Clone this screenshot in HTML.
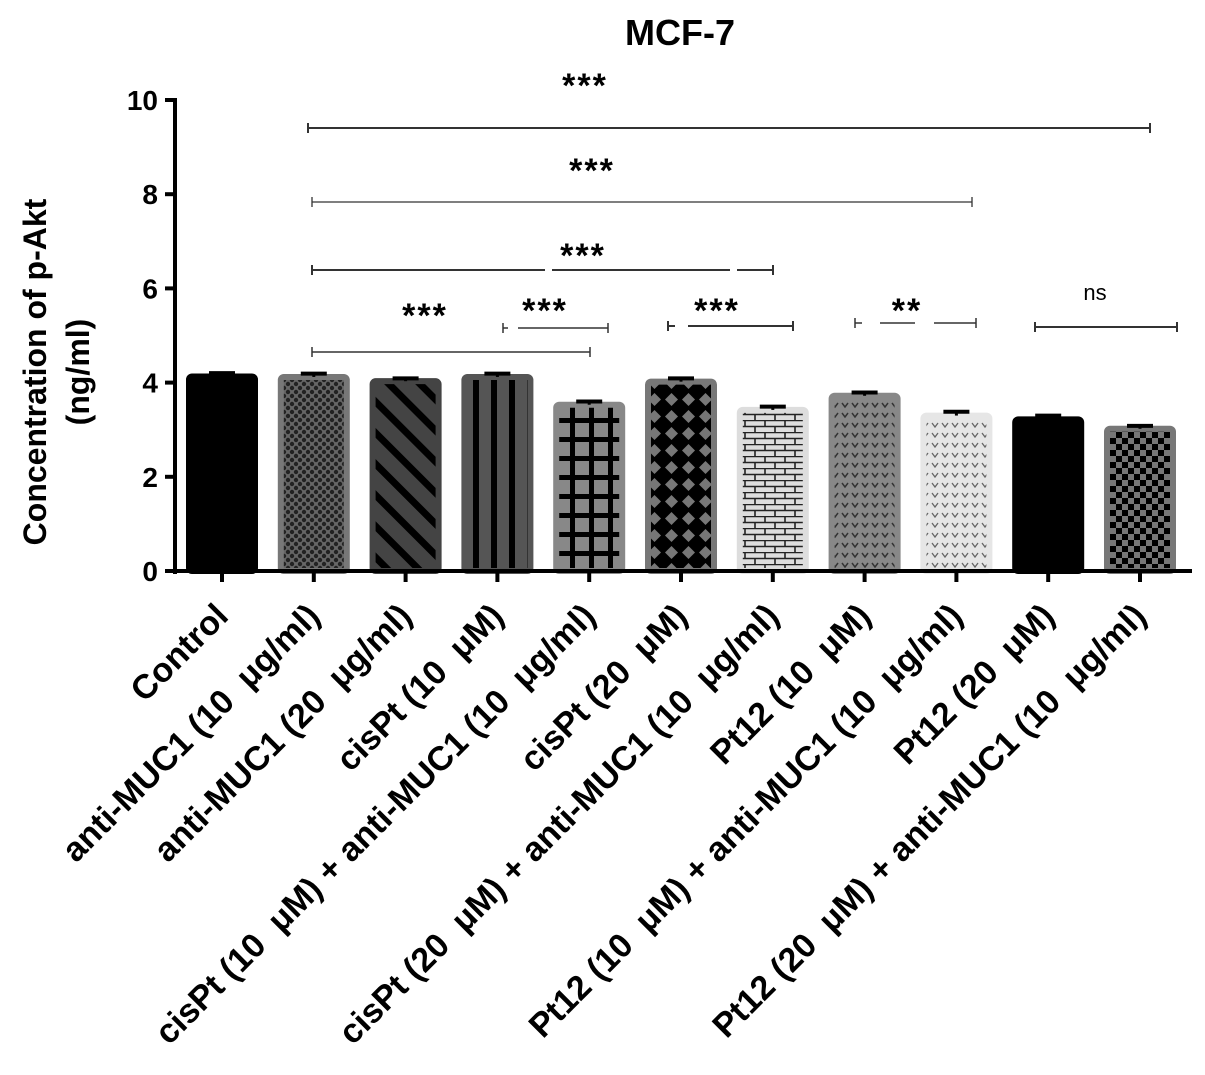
<!DOCTYPE html>
<html><head><meta charset="utf-8"><style>
body{margin:0;background:#fff}
svg text{font-family:"Liberation Sans",Arial,sans-serif;font-weight:bold}
</style></head><body>
<svg width="1205" height="1070">
<defs>
<pattern id="p1" width="8" height="8" patternUnits="userSpaceOnUse"><rect width="8" height="8" fill="#666"/><circle cx="4" cy="4" r="2.2" fill="#222"/><circle cx="0" cy="0" r="2.2" fill="#222"/><circle cx="8" cy="0" r="2.2" fill="#222"/><circle cx="0" cy="8" r="2.2" fill="#222"/><circle cx="8" cy="8" r="2.2" fill="#222"/></pattern>
<pattern id="p2" width="22" height="22" patternUnits="userSpaceOnUse" patternTransform="rotate(-45)"><rect width="22" height="22" fill="#444"/><rect x="0" width="7" height="22" fill="#000"/></pattern>
<pattern id="p3" width="18" height="10" patternUnits="userSpaceOnUse"><rect width="18" height="10" fill="#555"/><rect x="5" width="6" height="10" fill="#000"/></pattern>
<pattern id="p4" width="19" height="19" patternUnits="userSpaceOnUse"><rect width="19" height="19" fill="#888"/><rect x="0" width="5" height="19" fill="#000"/><rect y="0" width="19" height="5" fill="#000"/></pattern>
<pattern id="p5" width="17" height="17" patternUnits="userSpaceOnUse"><rect width="17" height="17" fill="#000"/><path d="M8.5 2 L15 8.5 L8.5 15 L2 8.5Z" fill="#777"/></pattern>
<pattern id="p6" width="20" height="12" patternUnits="userSpaceOnUse"><rect width="20" height="12" fill="#ddd"/><path d="M0 .5H20M0 6.5H20M5 0V6M15 6V12" stroke="#222" stroke-width="1.6"/></pattern>
<pattern id="p7" width="10" height="10" patternUnits="userSpaceOnUse"><rect width="10" height="10" fill="#888"/><path d="M2 3 L5 7 L8 3" stroke="#333" stroke-width="1.5" fill="none"/></pattern>
<pattern id="p8" width="10" height="10" patternUnits="userSpaceOnUse"><rect width="10" height="10" fill="#e6e6e6"/><path d="M2 3 L5 7 L8 3" stroke="#666" stroke-width="1.3" fill="none"/></pattern>
<pattern id="p9" width="12" height="12" patternUnits="userSpaceOnUse"><rect width="12" height="12" fill="#777"/><rect width="6" height="6" fill="#000"/><rect x="6" y="6" width="6" height="6" fill="#000"/></pattern>
</defs>
<text x="680" y="45" font-size="36" text-anchor="middle">MCF-7</text>
<g id="yaxis"></g>
<g id="bars"></g>
<g id="xaxis"></g>
<g id="sig"></g>
<text transform="translate(46,372) rotate(-90)" font-size="32" text-anchor="middle">Concentration of p-Akt</text>
<text transform="translate(89,372) rotate(-90)" font-size="32" text-anchor="middle">(ng/ml)</text>
</svg>
<script>
const categories=["Control","anti-MUC1 (10 \u00a0\u03bcg/ml)","anti-MUC1 (20 \u00a0\u03bcg/ml)","cisPt (10 \u00a0\u03bcM)","cisPt (10 \u00a0\u03bcM) + anti-MUC1 (10 \u00a0\u03bcg/ml)","cisPt (20 \u00a0\u03bcM)","cisPt (20 \u00a0\u03bcM) + anti-MUC1 (10 \u00a0\u03bcg/ml)","Pt12 (10 \u00a0\u03bcM)","Pt12 (10 \u00a0\u03bcM) + anti-MUC1 (10 \u00a0\u03bcg/ml)","Pt12 (20 \u00a0\u03bcM)","Pt12 (20 \u00a0\u03bcM) + anti-MUC1 (10 \u00a0\u03bcg/ml)"];
const values=[4.13,4.12,4.03,4.12,3.53,4.02,3.42,3.72,3.3,3.22,3.02];
const errors=[0.07,0.07,0.06,0.07,0.07,0.07,0.07,0.07,0.08,0.08,0.06];
const fills=["#000","url(#p1)","url(#p2)","url(#p3)","url(#p4)","url(#p5)","url(#p6)","url(#p7)","url(#p8)","#000","url(#p9)"];
const borders=["#000","#777","#444","#555","#888","#777","#ddd","#888","#e6e6e6","#000","#777"];
const yTicks=[0,2,4,6,8,10];
const NS="http://www.w3.org/2000/svg";
const y=v=>571-v*47.1;
const x=i=>222+i*91.8;
function mk(t,a,p){const e=document.createElementNS(NS,t);for(const k in a)e.setAttribute(k,a[k]);p.appendChild(e);return e;}
const ya=document.getElementById('yaxis');
mk('line',{x1:175,y1:98,x2:175,y2:574,stroke:'#000','stroke-width':4},ya);
yTicks.forEach(t=>{mk('line',{x1:165,y1:y(t),x2:175,y2:y(t),stroke:'#000','stroke-width':4},ya);
const tx=mk('text',{x:158,y:y(t)+10,'font-size':28,'text-anchor':'end'},ya);tx.textContent=t;

});
const bg=document.getElementById('bars');
values.forEach((v,i)=>{
const r=mk('rect',{x:x(i)-33,y:y(v),width:66,height:571-y(v),fill:fills[i],stroke:borders[i],'stroke-width':6,rx:3},bg);


mk('line',{x1:x(i),y1:y(v),x2:x(i),y2:y(v+errors[i]),stroke:'#000','stroke-width':3},bg);
mk('line',{x1:x(i)-13,y1:y(v+errors[i]),x2:x(i)+13,y2:y(v+errors[i]),stroke:'#000','stroke-width':4},bg);});
const xa=document.getElementById('xaxis');
mk('line',{x1:173,y1:571,x2:1192,y2:571,stroke:'#000','stroke-width':4},xa);
categories.forEach((c,i)=>{mk('line',{x1:x(i),y1:571,x2:x(i),y2:582,stroke:'#000','stroke-width':4},xa);
const t=mk('text',{transform:`translate(${x(i)+8},618) rotate(-45)`,'font-size':34,'text-anchor':'end'},xa);t.textContent=c;

});
const sg=document.getElementById('sig');
const brackets=[[308,1150,128,2],[312,972,202,1.3],[312,773,270,2],[503,608,328,1.5],[668,793,326,2],[312,590,352,1.5],[855,976,323,1.5],[1035,1177,327,2]];
brackets.forEach(b=>{mk('line',{x1:b[0],y1:b[2],x2:b[1],y2:b[2],stroke:'#333','stroke-width':b[3]},sg);
mk('line',{x1:b[0],y1:b[2]-5,x2:b[0],y2:b[2]+5,stroke:'#333','stroke-width':b[3]},sg);
mk('line',{x1:b[1],y1:b[2]-5,x2:b[1],y2:b[2]+5,stroke:'#333','stroke-width':b[3]},sg);});
[[545,270,552],[730,270,737],[508,328,518],[675,326,688],[862,323,880],[915,323,934]].forEach(g=>mk('line',{x1:g[0],y1:g[1],x2:g[2],y2:g[1],stroke:'#fff','stroke-width':4},sg));
[["***",585,97],["***",592,182],["***",583,267],["***",425,327],["***",545,322],["***",717,322],["**",907,322]].forEach(s=>{const t=mk('text',{x:s[1],y:s[2],'font-size':34,'text-anchor':'middle','letter-spacing':2},sg);t.textContent=s[0];});
const ns=mk('text',{x:1095,y:300,'font-size':22,'text-anchor':'middle',style:'font-weight:normal'},sg);ns.textContent='ns';
</script>
</body></html>
